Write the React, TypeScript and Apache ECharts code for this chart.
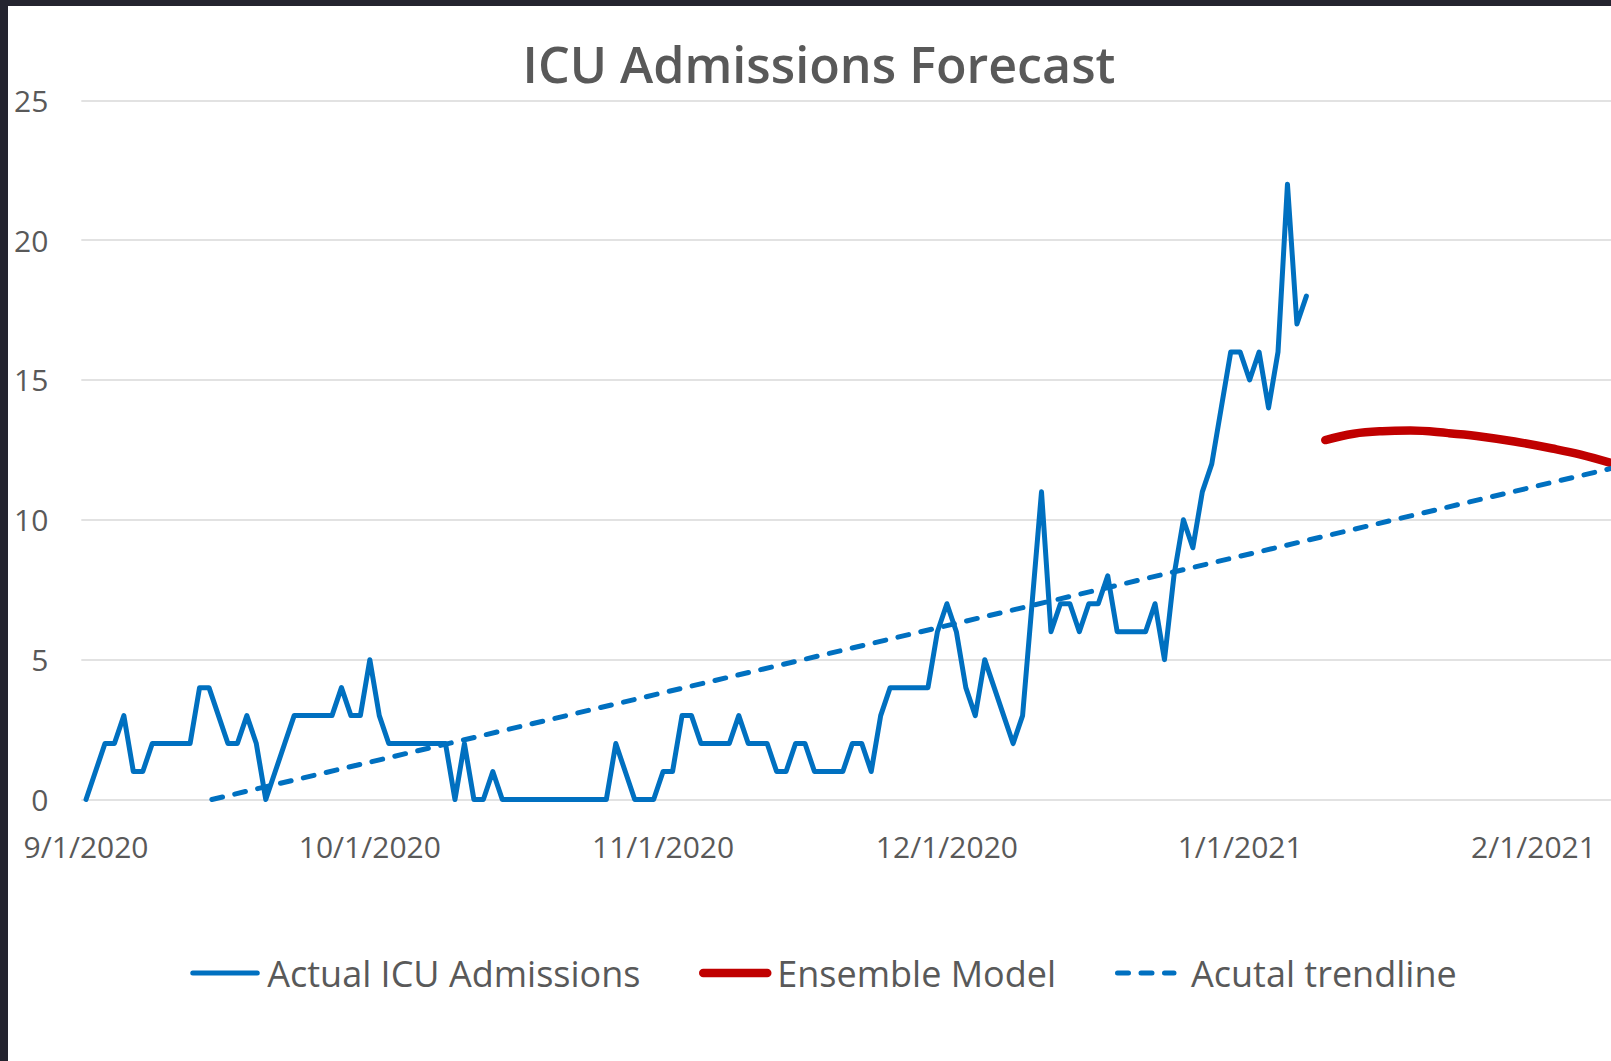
import React, { useEffect, useRef } from "react";
import * as echarts from "echarts";

const chartTitle = "ICU Admissions Forecast";
const seriesNames = ["Actual ICU Admissions", "Ensemble Model", "Acutal trendline"];

// Daily actual ICU admissions, day 0 = 9/1/2020
const actualValues = [
  0, 1, 2, 2, 3, 1, 1, 2, 2, 2, 2, 2, 4, 4, 3, 2, 2, 3, 2, 0,
  1, 2, 3, 3, 3, 3, 3, 4, 3, 3, 5, 3, 2, 2, 2, 2, 2, 2, 2, 0,
  2, 0, 0, 1, 0, 0, 0, 0, 0, 0, 0, 0, 0, 0, 0, 0, 2, 1, 0, 0,
  0, 1, 1, 3, 3, 2, 2, 2, 2, 3, 2, 2, 2, 1, 1, 2, 2, 1, 1, 1,
  1, 2, 2, 1, 3, 4, 4, 4, 4, 4, 6, 7, 6, 4, 3, 5, 4, 3, 2, 3,
  7, 11, 6, 7, 7, 6, 7, 7, 8, 6, 6, 6, 6, 7, 5, 8, 10, 9, 11, 12,
  14, 16, 16, 15, 16, 14, 16, 22, 17, 18,
];

// Ensemble model forecast (day offset from 9/1/2020, value)
const forecastDays = [131, 134, 137, 140, 144, 147, 151, 155, 158, 162];
const forecastValues = [12.85, 13.08, 13.17, 13.19, 13.1, 13.0, 12.8, 12.55, 12.33, 11.95];

// Linear trendline of actuals (visible part, day offset, value)
const trendDays = [13.3, 162];
const trendValues = [0, 11.9];

// X axis ticks (day offsets) and their labels
const tickDays = [0, 30, 61, 91, 122, 153];
const tickLabels = ["9/1/2020", "10/1/2020", "11/1/2020", "12/1/2020", "1/1/2021", "2/1/2021"];

const yMin = 0;
const yMax = 25;
const yInterval = 5;

export default function App() {
  const ref = useRef<HTMLDivElement>(null);

  useEffect(() => {
    if (!ref.current) return;
    const chart = echarts.init(ref.current, undefined, { renderer: "svg" });
    const font = "'Open Sans', 'Noto Sans', sans-serif";
    const textColor = "#595959";
    const blue = "#0070C0";
    const red = "#C00000";
    const gridColor = "#D9D9D9";

    const actualData = actualValues.map((v, i) => [i, v]);
    const forecastData = forecastDays.map((d, i) => [d, forecastValues[i]]);
    const trendData = trendDays.map((d, i) => [d, trendValues[i]]);

    const legendText = (padLeft: number) => ({
      fontSize: 36,
      color: textColor,
      fontFamily: font,
      fontWeight: 500,
      padding: [0, 0, 0, padLeft],
    });
    const hiddenSymbol = { color: "transparent", opacity: 0, borderWidth: 0 };

    chart.setOption({
      animation: false,
      backgroundColor: "#ffffff",
      textStyle: { fontFamily: font },
      title: {
        text: chartTitle,
        left: 806,
        top: 27,
        textAlign: "center",
        textStyle: { fontSize: 50.2, fontWeight: 600, color: textColor, fontFamily: font },
      },
      grid: {
        left: 73.3,
        right: 0,
        top: 94.3,
        height: 699.2,
        containLabel: false,
        outerBoundsMode: "none",
      },
      xAxis: {
        type: "value",
        min: -0.5,
        max: 161.2,
        axisLine: { show: false },
        axisTick: { show: false },
        splitLine: { show: false },
        axisLabel: {
          customValues: tickDays,
          formatter: (v: number) => {
            const idx = tickDays.indexOf(Math.round(v));
            return idx >= 0 ? tickLabels[idx] : "";
          },
          fontSize: 30,
          fontWeight: 500,
          color: textColor,
          fontFamily: font,
          margin: 32,
        },
      },
      yAxis: {
        type: "value",
        min: yMin,
        max: yMax,
        interval: yInterval,
        axisLine: { show: false },
        axisTick: { show: false },
        splitLine: { lineStyle: { color: gridColor, width: 1.5 } },
        axisLabel: { fontSize: 30, fontWeight: 500, color: textColor, fontFamily: font, margin: 33 },
      },
      legend: [
        {
          data: [seriesNames[0]],
          left: 182.25,
          top: 949,
          padding: 0,
          itemWidth: 64.5,
          itemHeight: 14,
          textStyle: legendText(5),
          itemStyle: hiddenSymbol,
          lineStyle: { width: 5, cap: "round" },
        },
        {
          data: [seriesNames[1]],
          left: 691,
          top: 949,
          padding: 0,
          itemWidth: 64,
          itemHeight: 14,
          textStyle: legendText(5),
          itemStyle: hiddenSymbol,
          lineStyle: { width: 8.5, cap: "round" },
        },
        {
          data: [seriesNames[2]],
          left: 1107,
          top: 949,
          padding: 0,
          itemWidth: 56.5,
          itemHeight: 14,
          textStyle: legendText(12),
          itemStyle: hiddenSymbol,
          lineStyle: { width: 5, type: [11, 12.5], cap: "round" },
        },
      ],
      series: [
        {
          name: seriesNames[0],
          type: "line",
          data: actualData,
          symbol: "none",
          lineStyle: { color: blue, width: 5, cap: "round", join: "round" },
          itemStyle: { color: blue },
          z: 3,
        },
        {
          name: seriesNames[1],
          type: "line",
          data: forecastData,
          symbol: "none",
          smooth: 0.4,
          lineStyle: { color: red, width: 8.5, cap: "round", join: "round" },
          itemStyle: { color: red },
          z: 2,
        },
        {
          name: seriesNames[2],
          type: "line",
          data: trendData,
          symbol: "none",
          lineStyle: { color: blue, width: 5, type: [11, 12.5], cap: "round" },
          itemStyle: { color: blue },
          z: 2,
        },
      ],
    });

    return () => chart.dispose();
  }, []);

  return (
    <div
      style={{
        position: "fixed",
        left: 0,
        top: 0,
        width: 1611,
        height: 1061,
        background: "#24242f",
        overflow: "hidden",
      }}
    >
      <div
        ref={ref}
        style={{
          position: "absolute",
          left: 8,
          top: 6,
          width: 1603,
          height: 1055,
          background: "#ffffff",
        }}
      />
    </div>
  );
}
